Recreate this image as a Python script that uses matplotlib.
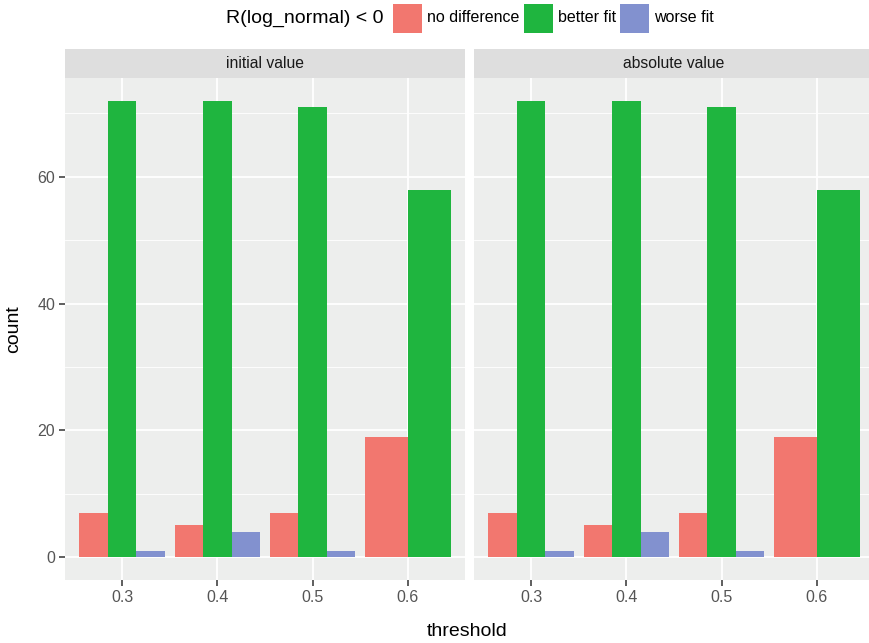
import numpy as np
import matplotlib
matplotlib.use("Agg")
import matplotlib.pyplot as plt
from matplotlib.patches import Rectangle

plt.rcParams['font.family'] = ['Liberation Sans', 'DejaVu Sans']

# Data
thresholds = ["0.3", "0.4", "0.5", "0.6"]
facets = ["initial value", "absolute value"]
groups = ["no difference", "better fit", "worse fit"]
colors = ["#F2776F", "#1FB53F", "#8291CF"]
no_difference = [7, 5, 7, 19]
better_fit = [72, 72, 71, 58]
worse_fit = [1, 4, 1, 0]   # 0 = no bar at this threshold
counts = {
    "initial value": [no_difference, better_fit, worse_fit],
    "absolute value": [no_difference, better_fit, worse_fit],
}

W, H = 869, 643
fig = plt.figure(figsize=(W / 100, H / 100), dpi=100)

panel_bg = "#EDEEED"
strip_bg = "#DEDEDE"
text_col = "#555555"

def px_axes(x0, y0, x1, y1):
    return fig.add_axes([x0 / W, 1 - y1 / H, (x1 - x0) / W, (y1 - y0) / H])

panels = [(65, 465), (474, 874)]
top, bottom = 78, 580
strip_top = 49

ymax = 72
yexp = ymax * 0.05

for pi, (facet, (x0, x1)) in enumerate(zip(facets, panels)):
    ax = px_axes(x0, top, x1, bottom)
    ax.set_facecolor(panel_bg)
    ax.set_xlim(0.4, 4.6)
    ax.set_ylim(-yexp, ymax + yexp)
    for s in ax.spines.values():
        s.set_visible(False)
    # grid
    for v in [10, 30, 50, 70]:
        ax.axhline(v, color="white", lw=0.6, zorder=0)
    for v in [0, 20, 40, 60]:
        ax.axhline(v, color="white", lw=1.3, zorder=0)
    for i in range(len(thresholds)):
        ax.axvline(i + 1, color="white", lw=1.3, zorder=0)

    series = counts[facet]
    for i in range(len(thresholds)):
        present = [k for k in range(len(groups)) if series[k][i] > 0]
        n = len(present)
        bw = 0.9 / n
        left = i + 1 - 0.45
        for j, k in enumerate(present):
            ax.bar(left + bw * (j + 0.5), series[k][i], width=bw,
                   color=colors[k], zorder=2, linewidth=0)

    ax.set_xticks(range(1, len(thresholds) + 1))
    ax.set_xticklabels(thresholds)
    ax.set_yticks([0, 20, 40, 60])
    if pi == 0:
        ax.set_yticklabels(["0", "20", "40", "60"])
    else:
        ax.tick_params(axis="y", left=False, labelleft=False)
    ax.tick_params(axis="both", colors="#333333", labelcolor=text_col,
                   labelsize=11.5, length=4, width=1.1, pad=3)

    # strip
    sax = px_axes(x0, strip_top, x1, top)
    sax.set_facecolor(strip_bg)
    sax.set_xticks([]); sax.set_yticks([])
    for s in sax.spines.values():
        s.set_visible(False)
    sax.text(0.5, 0.5, facet, ha="center", va="center", fontsize=11.3,
             color="#1A1A1A", transform=sax.transAxes)

# axis titles
fig.text((65 + 869) / 2 / W, 1 - 631 / H, "threshold", ha="center", va="center",
         fontsize=14, color="black")
fig.text(14 / W, 1 - 329 / H, "count", ha="center", va="center",
         fontsize=14, color="black", rotation=90)

# legend
fig.text(383 / W, 1 - 18 / H, "R(log_normal) < 0", ha="right", va="center",
         fontsize=14, color="black")
keys = [(393, "no difference"), (524, "better fit"), (620, "worse fit")]
for (kx, label), c in zip(keys, colors):
    fig.patches.append(Rectangle((kx / W, 1 - 33 / H), 29 / W, 29 / H,
                                 transform=fig.transFigure, facecolor=c,
                                 edgecolor="none"))
    fig.text((kx + 34) / W, 1 - 18 / H, label, ha="left", va="center",
             fontsize=11.5, color="black")

fig.savefig("out.png", dpi=100)
